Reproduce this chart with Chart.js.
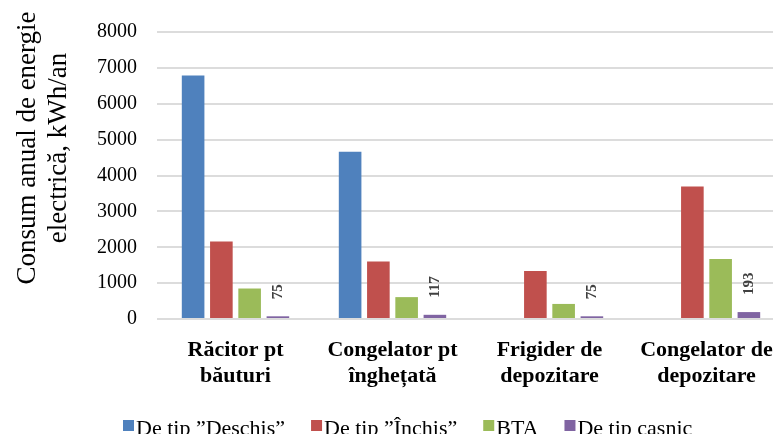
<!DOCTYPE html>
<html>
<head>
<meta charset="utf-8">
<script src="https://cdn.jsdelivr.net/npm/chart.js@4"></script>
<style>
  html, body { margin: 0; padding: 0; overflow: hidden; background: #fff; }
  #contenedor { width: 785px; height: 434px; }
</style>
</head>
<body>
<div id="contenedor"><canvas id="myChart" width="785" height="434"></canvas></div>
<script>

// DATOS
const categorii = [
    ['Răcitor pt', 'băuturi'],
    ['Congelator pt', 'înghețată'],
    ['Frigider de', 'depozitare'],
    ['Congelator de', 'depozitare']
]
const deschis = [6790, 4660, 0, 0]
const inchis = [2160, 1600, 1340, 3690]
const bta = [850, 610, 420, 1670]
const casnic = [75, 117, 75, 193]
const etichete = ['De tip ”Deschis”', 'De tip ”Închis”', 'BTA', 'De tip casnic']
const culori = ['#4f81bd', '#c0504d', '#9bbb59', '#8064a2']
const titluY = ['Consum anual de energie', 'electrică, kWh/an']

const serif = "'Liberation Serif', 'Times New Roman', serif"

const chart = document.getElementById('myChart')

new Chart(chart, {
    type: 'bar',
    data: {
        labels: categorii,
        datasets: [deschis, inchis, bta, casnic].map((d, i) => ({
            label: etichete[i],
            data: d,
            backgroundColor: culori[i],
            categoryPercentage: 0.72,
            barPercentage: 0.8
        }))
    },
    options: {
        responsive: false,
        animation: false,
        layout: { padding: { top: 28, right: 0, left: 0, bottom: 0 } },
        scales: {
            x: {
                grid: { display: false },
                border: { display: false },
                ticks: {
                    color: '#000',
                    padding: 10,
                    maxRotation: 0,
                    autoSkip: false,
                    font: { family: serif, size: 22, weight: 'bold', lineHeight: 1.18 }
                },
                afterFit: (scale) => { scale.height = 434 - 319 }
            },
            y: {
                min: 0,
                max: 8000,
                grid: { color: '#dcdcdc', lineWidth: 2, drawTicks: false },
                border: { display: false },
                ticks: {
                    stepSize: 1000,
                    color: '#000',
                    padding: 20,
                    font: { family: serif, size: 20 },
                    callback: (v) => String(v)
                },
                afterFit: (scale) => { scale.width = 157 }
            }
        },
        plugins: {
            legend: { display: false },
            tooltip: { enabled: false }
        }
    },
    plugins: [{
        id: 'fundal_titlu_legenda',
        beforeDraw: (chart) => {
            const ctx = chart.ctx
            ctx.save()
            ctx.fillStyle = '#fff'
            ctx.fillRect(0, 0, chart.width, chart.height)
            ctx.restore()
        },
        afterDatasetsDraw: (chart) => {
            // valori pe seria "De tip casnic"
            const ctx = chart.ctx
            const meta = chart.getDatasetMeta(3)
            ctx.save()
            ctx.fillStyle = '#404040'
            ctx.font = `bold 15px ${serif}`
            ctx.textAlign = 'left'
            ctx.textBaseline = 'middle'
            meta.data.forEach((bar, i) => {
                ctx.save()
                ctx.translate(bar.x, bar.y - 17)
                ctx.rotate(-Math.PI / 2)
                ctx.fillText(String(casnic[i]), 0, 0)
                ctx.restore()
            })
            ctx.restore()
        },
        afterDraw: (chart) => {
            const ctx = chart.ctx
            // titlu axa Y
            ctx.save()
            ctx.fillStyle = '#000'
            ctx.font = `27px ${serif}`
            ctx.textAlign = 'center'
            ctx.textBaseline = 'alphabetic'
            const xs = [35, 66]
            titluY.forEach((t, i) => {
                ctx.save()
                ctx.translate(xs[i], 148)
                ctx.rotate(-Math.PI / 2)
                ctx.fillText(t, 0, 0)
                ctx.restore()
            })
            ctx.restore()

            // legenda
            ctx.save()
            ctx.font = `22px ${serif}`
            ctx.textAlign = 'left'
            ctx.textBaseline = 'alphabetic'
            let x = 123
            chart.data.datasets.forEach((ds) => {
                ctx.fillStyle = ds.backgroundColor
                ctx.fillRect(x, 420, 11, 11)
                ctx.fillStyle = '#000'
                ctx.fillText(ds.label, x + 13, 435)
                x += 13 + ctx.measureText(ds.label).width + 26
            })
            ctx.restore()
        }
    }]
})
</script>
</body>
</html>
